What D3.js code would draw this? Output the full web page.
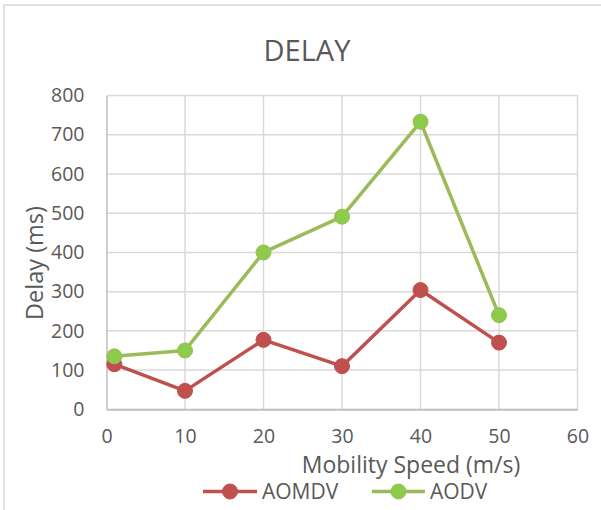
<!DOCTYPE html>
<html>
<head>
<meta charset="utf-8">
<script src="https://cdn.jsdelivr.net/npm/d3@7"></script>
<style>
  html, body { margin: 0; padding: 0; background: #fff; }
  svg { display: block; }
  text { font-family: "Open Sans", "Noto Sans", sans-serif; fill: #595959; }
</style>
</head>
<body>
<svg id="chart" width="601" height="510"></svg>
<script>
// Mobility speed (m/s) at which delay was measured
const speeds = [1, 10, 20, 30, 40, 50];
// Average end-to-end delay (ms) per protocol
const aomdv = [115, 47, 177, 110, 304, 170];
const aodv = [135, 150, 400, 491, 733, 240];

const xTicks = [0, 10, 20, 30, 40, 50, 60];
const yTicks = [0, 100, 200, 300, 400, 500, 600, 700, 800];

const series = [
  { name: "AOMDV", values: aomdv, line: "#C0504D", dot: "#C0504D" },
  { name: "AODV", values: aodv, line: "#9BBB59", dot: "#8DCB4A" }
];

const svg = d3.select("#chart");
const W = 601, H = 510;
const plot = { left: 106.5, right: 577.5, top: 95.5, bottom: 409.3 };

// chart frame
svg.append("rect")
  .attr("x", 4).attr("y", 5).attr("width", W + 10).attr("height", H + 10)
  .attr("fill", "#fff").attr("stroke", "#d9d9d9").attr("stroke-width", 1.5);

const x = d3.scaleLinear().domain([0, 60]).range([plot.left, plot.right]);
const y = d3.scaleLinear().domain([0, 800]).range([plot.bottom, plot.top]);

// gridlines
const grid = svg.append("g");
grid.selectAll("line.h").data(yTicks.slice(1)).join("line")
  .attr("x1", plot.left).attr("x2", plot.right)
  .attr("y1", d => y(d)).attr("y2", d => y(d))
  .attr("stroke", "#d9d9d9").attr("stroke-width", 1.5);
grid.selectAll("line.v").data(xTicks.slice(1)).join("line")
  .attr("y1", plot.top).attr("y2", plot.bottom)
  .attr("x1", d => x(d)).attr("x2", d => x(d))
  .attr("stroke", "#d9d9d9").attr("stroke-width", 1.5);

// axes
const xAxis = d3.axisBottom(x).tickValues(xTicks).tickSize(0).tickPadding(20);
const yAxis = d3.axisLeft(y).tickValues(yTicks).tickSize(0).tickPadding(22);

const gx = svg.append("g").attr("transform", `translate(0,${plot.bottom})`).call(xAxis);
gx.select(".domain").attr("stroke", "#bfbfbf").attr("stroke-width", 2);
gx.selectAll("text").style("font-size", "19.5px").attr("fill", "#595959");

const gy = svg.append("g").attr("transform", `translate(${plot.left},0)`).call(yAxis);
gy.select(".domain").attr("stroke", "#bfbfbf").attr("stroke-width", 1.5);
gy.selectAll("text").style("font-size", "19.5px").attr("fill", "#595959");

// lines and markers
const line = d3.line().x((d, i) => x(speeds[i])).y(d => y(d));
series.forEach(s => {
  svg.append("path").datum(s.values)
    .attr("d", line).attr("fill", "none")
    .attr("stroke", s.line).attr("stroke-width", 3.5).attr("stroke-linejoin", "round");
  svg.append("g").selectAll("circle").data(s.values).join("circle")
    .attr("cx", (d, i) => x(speeds[i])).attr("cy", d => y(d))
    .attr("r", 7.5).attr("fill", s.dot).attr("stroke", s.line).attr("stroke-width", 1);
});

// title
svg.append("text").attr("x", 307).attr("y", 61).attr("text-anchor", "middle")
  .style("font-size", "29px").text("DELAY");

// axis titles
svg.append("text").attr("x", 411).attr("y", 473).attr("text-anchor", "middle")
  .style("font-size", "23px").text("Mobility Speed (m/s)");
svg.append("text").attr("transform", "translate(43,263) rotate(-90)")
  .attr("text-anchor", "middle").style("font-size", "23.5px").text("Delay (ms)");

// legend
const legend = [
  { s: series[0], x0: 203, x1: 257, tx: 262 },
  { s: series[1], x0: 372, x1: 425, tx: 430 }
];
legend.forEach(l => {
  const ly = 491.5;
  svg.append("line").attr("x1", l.x0).attr("x2", l.x1).attr("y1", ly).attr("y2", ly)
    .attr("stroke", l.s.line).attr("stroke-width", 3.5);
  svg.append("circle").attr("cx", (l.x0 + l.x1) / 2).attr("cy", ly).attr("r", 7.5)
    .attr("fill", l.s.dot).attr("stroke", l.s.line).attr("stroke-width", 1);
  svg.append("text").attr("x", l.tx).attr("y", ly + 7.5)
    .style("font-size", "21px").text(l.s.name);
});
</script>
</body>
</html>
